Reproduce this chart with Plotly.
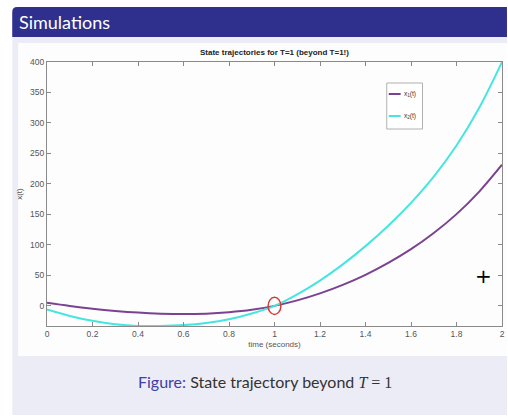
import plotly.graph_objects as go

# Sampled state trajectories (time in seconds)
t = [0.0, 0.1, 0.2, 0.3, 0.4, 0.5, 0.6, 0.7, 0.8, 0.9, 1.0,
     1.1, 1.2, 1.3, 1.4, 1.5, 1.6, 1.7, 1.8, 1.9, 2.0]
x1 = [5, -0.2, -4.6, -8.2, -11, -12.8, -13.5, -12.8, -10.5, -6.5, 0,
      9, 20.5, 34.5, 51, 70.5, 93, 119.5, 150.5, 187.5, 231.5]
x2 = [-6, -16.5, -24.5, -30, -32.8, -33, -31.5, -28, -22, -12.5, 0,
      19, 41.5, 68, 98, 131.5, 169, 212, 263, 325, 400]
series_names = ["x<sub>1</sub>(t)", "x<sub>2</sub>(t)"]
series_colors = ["#7b4290", "#45e6df"]
x_ticks = [0, 0.2, 0.4, 0.6, 0.8, 1, 1.2, 1.4, 1.6, 1.8, 2]
y_ticks = [0, 50, 100, 150, 200, 250, 300, 350, 400]
T_switch = 1.0

W, H = 508, 417
L, R, TOP, BOT = 47, 505, 62, 326  # plot area in pixels


def px(xp):
    return (xp - L) / (R - L)


def py(yp):
    return (BOT - yp) / (BOT - TOP)


fig = go.Figure()
for vals, name, col in zip([x1, x2], series_names, series_colors):
    fig.add_trace(go.Scatter(x=t, y=vals, mode="lines", name=name,
                             line=dict(color=col, width=2, shape="spline", smoothing=1.0),
                             showlegend=False))

shapes = [
    # slide background
    dict(type="rect", xref="paper", yref="paper", x0=px(12), x1=px(510),
         y0=py(415), y1=py(37), fillcolor="#ececf6", line_width=0, layer="below"),
    # figure canvas
    dict(type="rect", xref="paper", yref="paper", x0=px(18), x1=px(510),
         y0=py(356), y1=py(43), fillcolor="#fdfdfe", line_width=0, layer="below"),
    # header bar with rounded top-left corner
    dict(type="path", xref="paper", yref="paper",
         path=(f"M {px(12)},{py(37)} L {px(12)},{py(12)} "
               f"Q {px(12)},{py(7)} {px(17)},{py(7)} "
               f"L {px(510)},{py(7)} L {px(510)},{py(37)} Z"),
         fillcolor="#2f2f8e", line_width=0, layer="below"),
    # highlight of the switching instant
    dict(type="circle", xref="x", yref="y",
         x0=T_switch - 0.028, x1=T_switch + 0.028, y0=-14, y1=14,
         line=dict(color="#d83a3a", width=1.5)),
    # legend box
    dict(type="rect", xref="paper", yref="paper", x0=px(389), x1=px(425),
         y0=py(129), y1=py(83), fillcolor="white",
         line=dict(color="#b0b0b0", width=1)),
]
annotations = []
for i, (name, col) in enumerate(zip(series_names, series_colors)):
    yy = py(94 + 22 * i)
    shapes.append(dict(type="line", xref="paper", yref="paper",
                       x0=px(391), x1=px(403), y0=yy, y1=yy,
                       line=dict(color=col, width=2)))
    annotations.append(dict(text=name, xref="paper", yref="paper",
                            x=px(404), y=yy, xanchor="left", yanchor="middle",
                            showarrow=False,
                            font=dict(family="Liberation Sans", size=6.5, color="#333")))

annotations += [
    dict(text="Simulations", xref="paper", yref="paper", x=px(17), y=py(22),
         xanchor="left", yanchor="middle", showarrow=False,
         font=dict(family="Lato", size=18, color="white")),
    dict(text="<b>State trajectories for T=1 (beyond T=1!)</b>", xref="paper",
         yref="paper", x=0.5, y=py(52), xanchor="center", yanchor="middle",
         showarrow=False, font=dict(family="Liberation Sans", size=8, color="#222")),
    dict(text=('<span style="color:#3f3fa8">Figure:</span> State trajectory beyond '
               '<span style="font-family:Liberation Serif"><i>T</i> = 1</span>'),
         xref="paper", yref="paper", x=px(137), y=py(381), xanchor="left",
         yanchor="middle", showarrow=False,
         font=dict(family="Lato", size=16, color="#333")),
    dict(text="+", xref="paper", yref="paper", x=px(486), y=py(276),
         xanchor="center", yanchor="middle", showarrow=False,
         font=dict(family="DejaVu Sans", size=20, color="black")),
]

axis_common = dict(showgrid=False, zeroline=False, showline=True, linecolor="#8a8a8a",
                   linewidth=1, mirror="ticks", ticks="inside", ticklen=4,
                   tickcolor="#8a8a8a",
                   tickfont=dict(family="Liberation Sans", size=8.5, color="#555"))
fig.update_xaxes(range=[0, 2], tickvals=x_ticks, ticktext=[f"{v:g}" for v in x_ticks],
                 title=dict(text="time (seconds)", standoff=3,
                            font=dict(family="Liberation Sans", size=8, color="#555")),
                 **axis_common)
fig.update_yaxes(range=[-33, 400], tickvals=y_ticks,
                 title=dict(text="x(t)", standoff=6,
                            font=dict(family="Liberation Sans", size=8, color="#555")),
                 **axis_common)

fig.update_layout(width=W, height=H,
                  margin=dict(l=L, r=W - R, t=TOP, b=H - BOT),
                  paper_bgcolor="white", plot_bgcolor="white",
                  shapes=shapes, annotations=annotations)
fig.write_html("out.html")
